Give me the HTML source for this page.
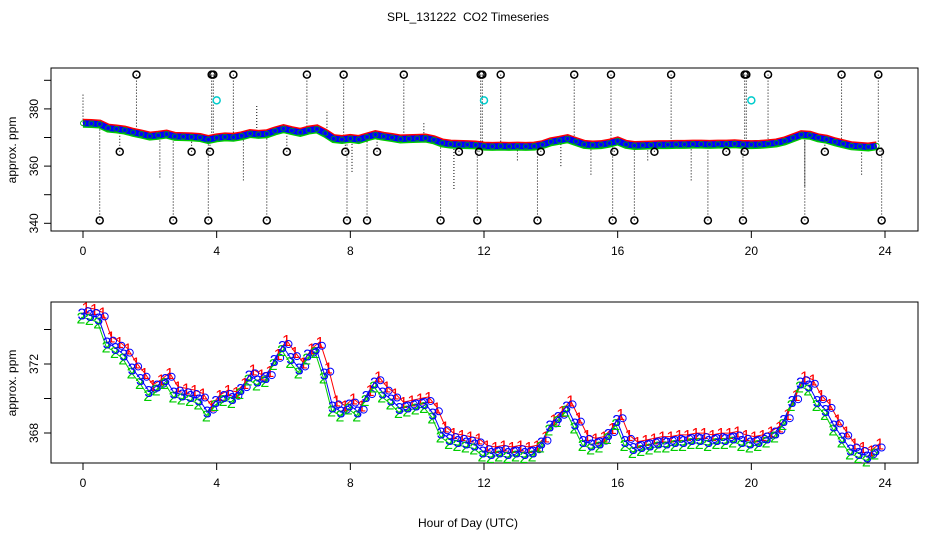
<!DOCTYPE html>
<html><head><meta charset="utf-8">
<style>
html,body{margin:0;padding:0;background:#fff;}
svg{display:block;font-family:"Liberation Sans",sans-serif;}
</style></head>
<body>
<svg id="chart" width="936" height="540" viewBox="0 0 936 540">
<text x="468" y="21" text-anchor="middle" font-size="12" style="white-space:pre">SPL_131222  CO2 Timeseries</text>
<rect x="51" y="68" width="867" height="163" fill="none" stroke="#000"/>
<rect x="51" y="302" width="867" height="161" fill="none" stroke="#000"/>
<text transform="translate(16,150) rotate(-90)" text-anchor="middle" font-size="12">approx. ppm</text>
<text transform="translate(16,383) rotate(-90)" text-anchor="middle" font-size="12">approx. ppm</text>
<text x="468" y="527" text-anchor="middle" font-size="12">Hour of Day (UTC)</text>
<g id="topPanel"></g>
<g id="botPanel"></g>
</svg>
<script>
const xTicks=[0,4,8,12,16,20,24];
const topYTicks=[340,350,360,370,380,390];
const topYLabels=[340,360,380];
const botYTicks=[368,370,372,374];
const botYLabels=[368,372];
const co2=[375.0,374.9,374.7,373.3,373.0,372.6,371.8,371.2,370.5,370.8,371.2,370.4,370.3,370.2,370.0,369.3,
369.9,370.2,370.1,370.6,371.4,371.1,371.3,372.3,373.1,372.4,371.8,372.6,373.0,371.5,369.6,369.3,
369.7,369.3,370.2,371.0,370.4,370.0,369.5,369.6,369.7,369.8,369.2,368.1,367.7,367.6,367.5,367.4,
367.0,366.9,367.0,366.9,367.0,366.9,367.0,367.5,368.5,369.0,369.6,368.6,367.6,367.4,367.5,368.0,
368.8,367.6,367.2,367.3,367.4,367.5,367.5,367.6,367.6,367.7,367.7,367.6,367.7,367.7,367.8,367.6,
367.5,367.6,367.8,368.1,368.8,369.9,371.0,370.8,369.9,369.4,368.5,367.8,367.1,366.9,366.7,367.1];
const outHours=[1.6,3.85,3.9,4.5,6.7,7.8,9.6,11.9,11.95,12.5,14.7,15.8,17.6,19.8,19.85,20.5,22.7,23.8,
1.1,3.25,3.8,6.1,7.85,8.8,11.25,11.85,13.7,15.9,17.1,19.25,19.8,22.2,23.85,
0.5,2.7,3.75,5.5,7.9,8.5,10.7,11.8,13.6,15.85,16.5,18.7,19.75,21.6,23.9];
const outValues=[392,392,392,392,392,392,392,392,392,392,392,392,392,392,392,392,392,392,
365,365,365,365,365,365,365,365,365,365,365,365,365,365,365,
341,341,341,341,341,341,341,341,341,341,341,341,341,341,341];
const cyanHours=[4,12,20];
const cyanValues=[383,383,383];
const spikeHours=[0,2.3,4.8,5.2,7.3,8.05,10.2,11.1,13.0,14.3,15.2,16.9,18.2,21.6,23.3];
const spikeValues=[385,356,355,381,379,358,375,352,362,360,357,362,355,353,357];

const NS="http://www.w3.org/2000/svg";
const X=h=>83+h*(885-83)/24;
const Yt=v=>223.3-(v-340)*2.86;
const Yb=v=>433-(v-368)*17.25;
const hourAt=i=>i*0.25;
function mk(tag,attrs,parent,text){const e=document.createElementNS(NS,tag);for(const k in attrs)e.setAttribute(k,attrs[k]);if(text!==undefined)e.textContent=text;parent.appendChild(e);return e;}
const topG=document.getElementById('topPanel'), botG=document.getElementById('botPanel');

function axes(g,Y,yT,yL,y0,name){
  for(const t of xTicks){
    const l=mk('line',{x1:X(t),x2:X(t),y1:y0,y2:y0+7,stroke:'#000'},g);
    
    
    const tx=mk('text',{x:X(t),y:y0+24,'text-anchor':'middle','font-size':12},g,String(t));
    
    
  }
  for(const t of yT){
    const l=mk('line',{x1:44,x2:51,y1:Y(t),y2:Y(t),stroke:'#000'},g);
    
    
  }
  for(const t of yL){
    const tx=mk('text',{transform:`translate(38,${Y(t)}) rotate(-90)`,'text-anchor':'middle','font-size':12},g,String(t));
    
    
  }
}
axes(topG,Yt,topYTicks,topYLabels,231,'top');
axes(botG,Yb,botYTicks,botYLabels,463,'bottom');

for(let i=0;i<spikeHours.length;i++){
  const l=mk('line',{x1:X(spikeHours[i]),x2:X(spikeHours[i]),y1:Yt(spikeValues[i]),y2:Yt(co2[Math.min(95,Math.round(spikeHours[i]/0.25))]),stroke:'#000','stroke-dasharray':'1,2'},topG);
  
  
}
for(let i=0;i<outHours.length;i++){
  const ci=Math.min(95,Math.round(outHours[i]/0.25));
  const l=mk('line',{x1:X(outHours[i]),x2:X(outHours[i]),y1:Yt(outValues[i]),y2:Yt(co2[ci]),stroke:'#000','stroke-dasharray':'1,2'},topG);
  
  
}
let pl=mk('polyline',{points:co2.map((v,i)=>X(hourAt(i))+','+(Yt(v)+1)).join(' '),fill:'none',stroke:'#0c0','stroke-width':7},topG);


pl=mk('polyline',{points:co2.map((v,i)=>X(hourAt(i))+','+(Yt(v)-1)).join(' '),fill:'none',stroke:'#f00','stroke-width':7},topG);


pl=mk('polyline',{points:co2.map((v,i)=>X(hourAt(i))+','+Yt(v)).join(' '),fill:'none',stroke:'#00f','stroke-width':6},topG);


for(let i=0;i<co2.length;i++){
  const c=mk('circle',{cx:X(hourAt(i)),cy:Yt(co2[i]),r:2.5,fill:'none',stroke:'#0a0','stroke-width':0.8},topG);
  
  
}
for(let i=0;i<outHours.length;i++){
  const c=mk('circle',{cx:X(outHours[i]),cy:Yt(outValues[i]),r:3.5,fill:'none',stroke:'#000','stroke-width':1.5},topG);
  
  
}
for(let i=0;i<cyanHours.length;i++){
  const c=mk('circle',{cx:X(cyanHours[i]),cy:Yt(cyanValues[i]),r:3.5,fill:'none',stroke:'#0cc','stroke-width':1.5},topG);
  
  
}

const ser=[{c:'#f00',t:'1',dx:3,dy:-5},{c:'#0c0',t:'2',dx:-2,dy:5},{c:'#00f',t:'3',dx:-1,dy:1}];
for(const s of ser){
  const p=mk('polyline',{points:co2.map((v,i)=>(X(hourAt(i))+s.dx)+','+(Yb(v)+s.dy)).join(' '),fill:'none',stroke:s.c,'stroke-width':1},botG);
  
  
}
for(let i=0;i<co2.length;i++){
  for(const s of ser){
    const tx=mk('text',{x:X(hourAt(i))+s.dx,y:Yb(co2[i])+s.dy+6,'text-anchor':'middle','font-size':16,fill:s.c},botG,s.t);
    
    
  }
  const c=mk('circle',{cx:X(hourAt(i))+5,cy:Yb(co2[i])-1,r:3.5,fill:'none',stroke:'#00f','stroke-width':1},botG);
  
  
}
</script>
</body></html>
